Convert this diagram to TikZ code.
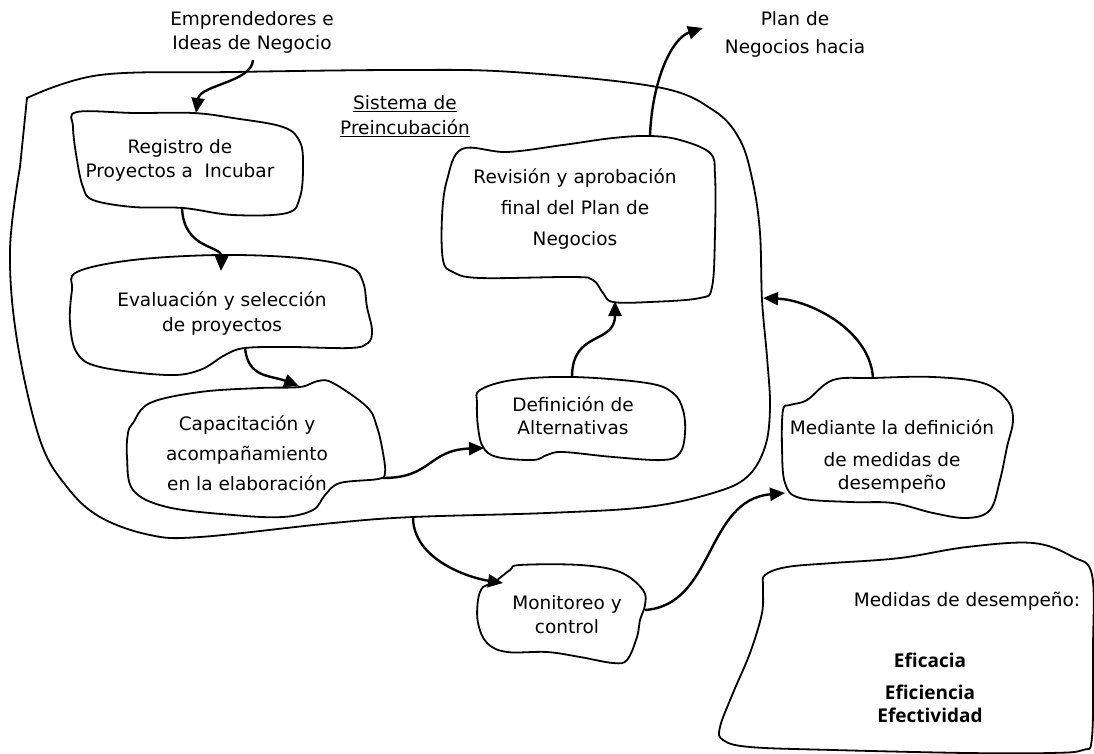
\documentclass[tikz,border=0pt]{standalone}
\usepackage{fontspec}
\setmainfont{DejaVu Sans}
\newfontfamily\opensans{Open Sans}
\usetikzlibrary{arrows.meta}

\begin{document}
\begin{tikzpicture}[x=1pt, y=-1pt, blob/.style = {line width=1.8pt}, flow/.style = {->, line width=2.4pt},
	txt/.style = {align=center, inner sep=0pt, font=\fontsize{18.5}{24}\selectfont}, >={Triangle[length=15pt, width=13pt]}]
	\useasboundingbox (0,0) rectangle (1094,754);
	% outer system boundary
	\draw[blob] plot[smooth, tension=0.6] coordinates {(27,98) (100,75) (233,72) (400,70) (513,72) (657,87) (713,110) (740,140) (753,183) (760,233) (762,300) (767,357) (770,407) (765,447) (747,477) (713,493) (647,507) (547,513) (413,517) (333,523) (200,537) (150,535) (100,517) (67,487) (40,440) (17,340) (10,250) (20,167)} -- cycle;
	% blobs
	\draw[blob] plot[smooth cycle, tension=0.6] coordinates {(77,112) (135,113) (193,113) (233,118) (283,127) (300,142) (303,167) (300,197) (287,213) (233,215) (183,208) (133,207) (93,200) (83,187) (77,160) (73,127)};
	\draw[blob] plot[smooth cycle, tension=0.6] coordinates {(77,272) (133,260) (220,255) (300,258) (350,267) (363,282) (367,307) (372,330) (368,343) (350,348) (290,347) (245,348) (225,355) (200,370) (167,375) (100,367) (77,353) (70,323) (72,290)};
	\draw[blob] plot[smooth cycle, tension=0.6] coordinates {(133,423) (150,403) (200,392) (260,388) (300,387) (318,381) (333,383) (367,407) (377,427) (383,453) (385,473) (378,479) (340,483) (325,495) (313,510) (283,517) (233,515) (167,507) (133,490) (127,457) (128,433)};
	\draw[blob] plot[smooth cycle, tension=0.6] coordinates {(480,390) (513,380) (573,377) (647,383) (673,393) (683,410) (685,433) (680,453) (663,460) (613,457) (563,452) (547,455) (533,460) (497,457) (483,447) (478,427) (477,403)};
	\draw[blob] plot[smooth cycle, tension=0.6] coordinates {(462,149) (507,152) (563,145) (613,138) (650,136) (680,140) (710,153) (715,175) (715,233) (712,287) (700,298) (650,302) (613,302) (603,293) (593,280) (573,277) (480,278) (453,272) (443,260) (442,217) (447,180)};
	\draw[blob] plot[smooth cycle, tension=0.6] coordinates {(790,405) (807,400) (833,380) (873,378) (933,377) (983,383) (1007,400) (1013,420) (1007,447) (1000,480) (990,510) (967,518) (933,513) (893,503) (850,502) (800,498) (785,483) (782,447) (783,410)};
	\draw[blob] plot[smooth cycle, tension=0.6] coordinates {(493,583) (510,570) (520,565) (580,565) (620,572) (643,590) (645,605) (640,620) (637,637) (627,660) (613,663) (580,657) (547,652) (507,652) (487,643) (478,623) (478,600) (483,587)};
	\draw[blob] plot[smooth cycle, tension=0.6] coordinates {(765,575) (787,567) (833,563) (900,558) (967,547) (1033,543) (1073,557) (1092,575) (1093,650) (1092,737) (1083,750) (1050,753) (967,753) (833,750) (750,747) (723,740) (720,727) (733,693) (750,653) (762,613) (763,587)};
	% texts
	\node[txt] (ideas) at (252,32) {Emprendedores e\\Ideas de Negocio};
	\node[txt, font=\fontsize{18.5}{28}\selectfont] (plan) at (795,34) {Plan de\\Negocios hacia};
	\node[txt, font=\fontsize{18.5}{25}\selectfont] (sistema) at (405,116) {\underline{Sistema de}\\\underline{Preincubación}};
	\node[txt] (registro) at (180,160) {Registro de\\Proyectos a\ \ Incubar};
	\node[txt, font=\fontsize{18.5}{25}\selectfont] (evaluacion) at (222,314) {Evaluación y selección\\de proyectos};
	\node[txt, font=\fontsize{18.5}{30}\selectfont] (capacitacion) at (247,453) {Capacitación y\\acompañamiento\\en la elaboración};
	\node[txt, font=\fontsize{18.5}{23}\selectfont] (definicion) at (573,416) {Definición de\\Alternativas};
	\node[txt, font=\fontsize{18.5}{31}\selectfont] (revision) at (575,209) {Revisión y aprobación\\final del Plan de\\Negocios};
	\node[txt, font=\fontsize{18.5}{23}\selectfont] (mediante) at (892,457) {Mediante la definición\\[9pt]de medidas de\\desempeño};
	\node[txt] (monitoreo) at (567,615) {Monitoreo y\\control};
	\node[txt] (medidas) at (967,601) {Medidas de desempeño:};
	\node[txt, font=\opensans\bfseries\fontsize{19}{23}\selectfont] (efic) at (930,688) {Eficacia\\[9pt]Eficiencia\\Efectividad};
	% connector ends
	\coordinate (i0) at (253,60);   \coordinate (i1) at (196,113);
	\coordinate (r0) at (182,207);  \coordinate (e1) at (221,271);
	\coordinate (e0) at (245,348);  \coordinate (c1) at (299,386);
	\coordinate (c0) at (383,478);  \coordinate (d1) at (484,448);
	\coordinate (d0) at (572,377);  \coordinate (v1) at (615,301);
	\coordinate (v0) at (650,136);  \coordinate (p1) at (703,28);
	\coordinate (s0) at (413,517);  \coordinate (m1) at (503,583);
	\coordinate (m0) at (645,610);  \coordinate (t1) at (785,493);
	\coordinate (t0) at (873,378);  \coordinate (s1) at (763,298);
	% connectors
	\draw[flow] (i0) .. controls (252,82) and (200,85) .. (i1);
	\draw[flow] (r0) .. controls (183,250) and (222,245) .. (e1);
	\draw[flow] (e0) .. controls (248,378) and (270,375) .. (c1);
	\draw[flow] (c0) .. controls (432,478) and (428,450) .. (d1);
	\draw[flow] (d0) .. controls (572,330) and (615,345) .. (v1);
	\draw[flow] (v0) .. controls (652,80) and (672,38) .. (p1);
	\draw[flow] (s0) .. controls (413,560) and (470,578) .. (m1);
	\draw[flow] (m0) .. controls (715,605) and (705,500) .. (t1);
	\draw[flow] (t0) .. controls (870,330) and (810,300) .. (s1);
\end{tikzpicture}
\end{document}
